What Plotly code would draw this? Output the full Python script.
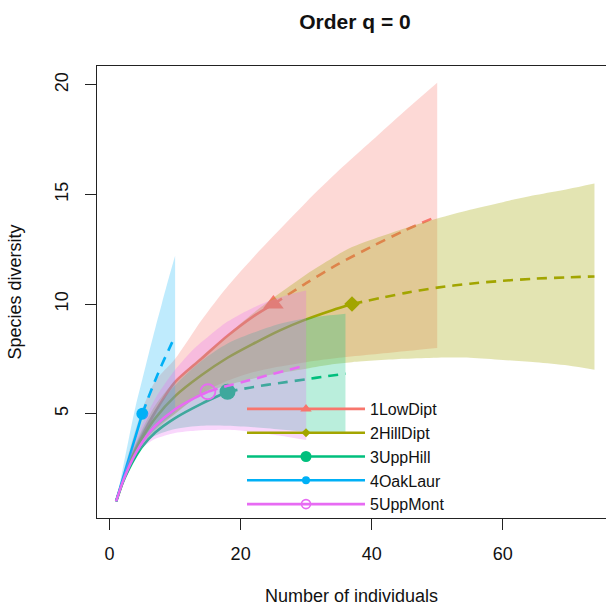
import plotly.graph_objects as go

# ---------------- data ----------------
sites = ["1LowDipt", "2HillDipt", "3UppHill", "4OakLaur", "5UppMont"]
colors = ["#F8766D", "#A3A500", "#00BF7D", "#00B0F6", "#E76BF3"]
band_colors = ["rgba(248,118,109,0.28)", "rgba(163,165,0,0.3)", "rgba(0,191,125,0.27)",
               "rgba(0,176,246,0.25)", "rgba(231,107,243,0.27)"]

# 1LowDipt
low_rare_n = [1, 2, 3, 4, 5, 7, 10, 14, 18, 22, 25]
low_rare_s = [1, 1.9, 2.7, 3.4, 4.0, 5.1, 6.45, 7.5, 8.55, 9.45, 10]
low_extr_n = [25, 30, 35, 40, 45, 50]
low_extr_s = [10, 10.95, 11.84, 12.62, 13.35, 14.0]
low_ci_n = [1, 2, 3, 4, 5, 7, 10, 14, 18, 22, 25, 30, 35, 40, 45, 50]
low_ci_hi = [1, 2.2, 3.3, 4.3, 5.2, 6.5, 7.5, 9.25, 10.8, 12.15, 13.1, 14.65, 16.1, 17.45, 18.8, 20.1]
low_ci_lo = [1, 1.95, 2.7, 3.25, 3.7, 4.35, 5.0, 5.9, 6.5, 6.9, 7.1, 7.35, 7.55, 7.7, 7.85, 8.0]

# 2HillDipt
hill_rare_n = [1, 2, 3, 4, 5, 7, 10, 14, 18, 22, 26, 30, 34, 37]
hill_rare_s = [1, 1.9, 2.7, 3.35, 3.9, 4.8, 5.8, 6.75, 7.55, 8.2, 8.8, 9.3, 9.72, 10]
hill_extr_n = [37, 45, 50, 55, 60, 65, 70, 74]
hill_extr_s = [10, 10.5, 10.75, 10.93, 11.06, 11.16, 11.22, 11.26]
hill_ci_n = [1, 2, 3, 4, 5, 7, 10, 14, 18, 22, 26, 30, 34, 37, 45, 50, 55, 60, 65, 70, 74]
hill_ci_hi = [1, 2.0, 2.9, 3.65, 4.3, 5.4, 6.5, 7.6, 8.6, 9.6, 10.5, 11.35, 12.1, 12.6,
              13.45, 13.9, 14.3, 14.65, 14.97, 15.25, 15.5]
hill_ci_lo = [1, 1.95, 2.7, 3.2, 3.6, 4.25, 5.0, 5.9, 6.3, 6.6, 6.85, 7.05, 7.25, 7.35,
              7.5, 7.55, 7.55, 7.45, 7.35, 7.2, 7.0]

# 3UppHill
upph_rare_n = [1, 2, 3, 4, 5, 7, 10, 14, 18]
upph_rare_s = [1, 1.85, 2.5, 3.05, 3.5, 4.15, 4.8, 5.45, 6.0]
upph_extr_n = [18, 22, 26, 30, 33, 36]
upph_extr_s = [6, 6.22, 6.4, 6.57, 6.7, 6.82]
upph_ci_n = [1, 2, 3, 4, 5, 7, 10, 14, 18, 22, 26, 30, 33, 36]
upph_ci_hi = [1, 2.0, 2.9, 3.6, 4.2, 5.2, 6.3, 7.4, 8.2, 8.7, 9.1, 9.35, 9.47, 9.56]
upph_ci_lo = [1, 2.0, 2.75, 3.25, 3.6, 4.0, 4.3, 4.45, 4.45, 4.38, 4.28, 4.18, 4.14, 4.12]

# 4OakLaur
oak_rare_n = [1, 2, 3, 4, 5]
oak_rare_s = [1, 2, 3, 4, 5]
oak_extr_n = [5, 6, 7, 8, 9, 10]
oak_extr_s = [5, 5.8, 6.55, 7.25, 7.9, 8.55]
oak_ci_n = [1, 2, 3, 4, 5, 6, 7, 8, 9, 10]
oak_ci_hi = [1, 2.48, 3.96, 5.37, 6.57, 7.77, 8.93, 10.05, 11.15, 12.2]
oak_ci_lo = [1, 1.95, 2.7, 3.25, 3.65, 4.0, 4.3, 4.6, 4.85, 5.1]

# 5UppMont
mont_rare_n = [1, 2, 3, 4, 5, 7, 10, 13, 15]
mont_rare_s = [1, 1.88, 2.6, 3.2, 3.7, 4.45, 5.2, 5.72, 6.0]
mont_extr_n = [15, 18, 21, 24, 27, 30]
mont_extr_s = [6, 6.27, 6.5, 6.74, 6.97, 7.2]
mont_ci_n = [1, 2, 3, 4, 5, 7, 10, 13, 15, 18, 21, 24, 27, 30]
mont_ci_hi = [1, 2.1, 3.0, 3.8, 4.5, 5.7, 7.0, 8.0, 8.5, 9.2, 9.7, 10.1, 10.4, 10.62]
mont_ci_lo = [1, 1.9, 2.6, 3.1, 3.45, 3.85, 4.12, 4.22, 4.25, 4.27, 4.2, 4.08, 3.95, 3.8]

obs_n = [25, 37, 18, 5, 15]
obs_s = [10, 10, 6, 5, 6]

x_ticks = [0, 20, 40, 60]
y_ticks = [5, 10, 15, 20]

# ---------------- styling ----------------
FONT = "Liberation Sans, Arial, Helvetica, sans-serif"
symbols = ["triangle-up", "diamond", "circle", "circle", "circle-open"]
obs_sizes = [18, 12, 16, 12, 15]
leg_symbols = ["triangle-up", "diamond", "circle", "circle", "circle-open"]
leg_sizes = [10, 7, 11, 8, 9]

data = [
    (low_rare_n, low_rare_s, low_extr_n, low_extr_s, low_ci_n, low_ci_hi, low_ci_lo),
    (hill_rare_n, hill_rare_s, hill_extr_n, hill_extr_s, hill_ci_n, hill_ci_hi, hill_ci_lo),
    (upph_rare_n, upph_rare_s, upph_extr_n, upph_extr_s, upph_ci_n, upph_ci_hi, upph_ci_lo),
    (oak_rare_n, oak_rare_s, oak_extr_n, oak_extr_s, oak_ci_n, oak_ci_hi, oak_ci_lo),
    (mont_rare_n, mont_rare_s, mont_extr_n, mont_extr_s, mont_ci_n, mont_ci_hi, mont_ci_lo),
]

fig = go.Figure()
for i, (rn, rs, en, es, cn, chi, clo) in enumerate(data):
    c = colors[i]
    fig.add_trace(go.Scatter(x=rn, y=rs, mode="lines", showlegend=False, hoverinfo="skip",
                             line=dict(color=c, width=2.6, shape="spline", smoothing=0.8)))
    fig.add_trace(go.Scatter(x=en, y=es, mode="lines", showlegend=False, hoverinfo="skip",
                             line=dict(color=c, width=2.6, dash="10px,7px", shape="spline",
                                       smoothing=0.8)))
    mk = dict(color=c, size=obs_sizes[i], symbol=symbols[i])
    if symbols[i] == "circle-open":
        mk["line"] = dict(color=c, width=1.8)
    fig.add_trace(go.Scatter(x=[obs_n[i]], y=[obs_s[i]], mode="markers", showlegend=False,
                             hoverinfo="skip", marker=mk))
    # confidence band (upper then lower filled to it)
    fig.add_trace(go.Scatter(x=cn, y=chi, mode="lines", showlegend=False, hoverinfo="skip",
                             line=dict(width=0, color=band_colors[i], shape="spline",
                                       smoothing=0.8)))
    fig.add_trace(go.Scatter(x=cn, y=clo, mode="lines", showlegend=False, hoverinfo="skip",
                             fill="tonexty", fillcolor=band_colors[i],
                             line=dict(width=0, color=band_colors[i], shape="spline",
                                       smoothing=0.8)))

# legend entries
for i, name in enumerate(sites):
    mk = dict(color=colors[i], size=leg_sizes[i], symbol=leg_symbols[i])
    if leg_symbols[i] == "circle-open":
        mk["line"] = dict(color=colors[i], width=1.6)
    fig.add_trace(go.Scatter(x=[None], y=[None], mode="lines+markers", name=name,
                             line=dict(color=colors[i], width=2.6), marker=mk))

axis_common = dict(showgrid=False, zeroline=False, showline=True, linecolor="#222",
                   linewidth=1, ticks="outside", ticklen=11, tickwidth=1, tickcolor="#222",
                   tickfont=dict(family=FONT, size=18, color="#111"), automargin=False)

PLOT_L, PLOT_R, PLOT_T, PLOT_B = 97, 606, 66, 518

fig.update_layout(
    width=606, height=606,
    margin=dict(l=PLOT_L, r=606 - PLOT_R, t=PLOT_T, b=606 - PLOT_B, autoexpand=False),
    paper_bgcolor="white", plot_bgcolor="white",
    font=dict(family=FONT, size=18, color="#111"),
    title=dict(text="<b>Order q = 0</b>", x=355 / 606, xref="container", xanchor="center",
               y=1 - 22 / 606, yref="container", yanchor="middle",
               font=dict(family=FONT, size=21, color="#111")),
    xaxis=dict(range=[-1.92, 75.76], tickvals=x_ticks, mirror=True, tickangle=0,
               title=dict(text="Number of individuals", standoff=27,
                          font=dict(family=FONT, size=18)),
               ticklabelstandoff=8, **axis_common),
    yaxis=dict(range=[0.24, 20.86], tickvals=y_ticks, tickangle=-90, mirror=False,
               title=dict(text="Species diversity", standoff=25,
                          font=dict(family=FONT, size=18)),
               ticklabelstandoff=10, **axis_common),
    legend=dict(xref="paper", yref="paper", x=(242 - PLOT_L) / (PLOT_R - PLOT_L),
                y=(PLOT_B - 392) / (PLOT_B - PLOT_T),
                xanchor="left", yanchor="top", itemwidth=118, bgcolor="rgba(0,0,0,0)",
                borderwidth=0, font=dict(family=FONT, size=16, color="#111"),
                tracegroupgap=0, traceorder="normal"),
    showlegend=True,
    hovermode=False,
)

fig.write_html("out.html", config={"displayModeBar": False, "staticPlot": True},
               post_script="document.body.style.margin='0px';")
